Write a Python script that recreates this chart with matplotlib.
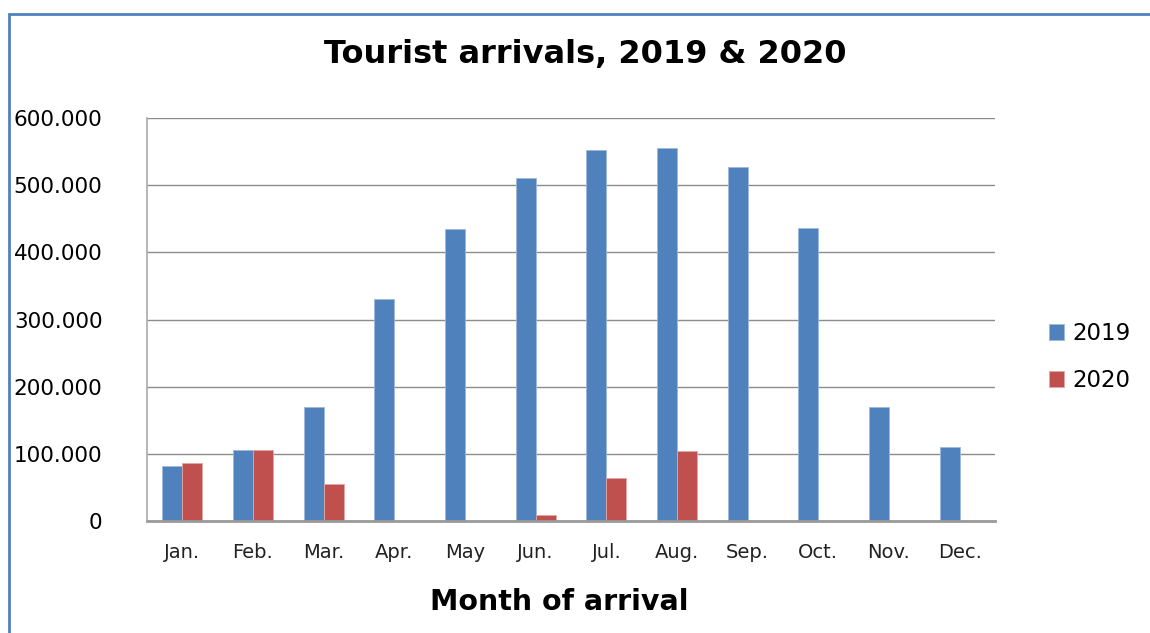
import matplotlib
matplotlib.use("Agg")
import matplotlib.pyplot as plt
from matplotlib.patches import Rectangle
from matplotlib.ticker import FuncFormatter
import numpy as np

months = ["Jan.", "Feb.", "Mar.", "Apr.", "May", "Jun.", "Jul.", "Aug.", "Sep.", "Oct.", "Nov.", "Dec."]
arrivals_2019 = [82000, 106000, 170000, 330000, 435000, 510000, 552000, 555000, 527000, 436000, 170000, 110000]
arrivals_2020 = [86000, 106000, 55000, 0, 0, 9000, 64000, 104000, 0, 0, 0, 0]
yticks = [0, 100000, 200000, 300000, 400000, 500000, 600000]

plt.rcParams['font.family'] = ['DejaVu Sans']

fig = plt.figure(figsize=(11.5, 6.33), dpi=100)
W, H = 1150, 633
ax = fig.add_axes([147/W, 1-521/H, (995-147)/W, (521-118)/H])

x = np.arange(len(months))
bw = 0.283
ax.bar(x - bw/2, arrivals_2019, bw, color="#4F81BD", label="2019", edgecolor="#9DB8DB", linewidth=0.6, zorder=3)
ax.bar(x + bw/2, arrivals_2020, bw, color="#C0504D", label="2020", edgecolor="#E0A8A6", linewidth=0.6, zorder=3)

ax.set_xlim(-0.5, len(months) - 0.5)
ax.set_ylim(0, 600000)
ax.set_yticks(yticks)
ax.yaxis.set_major_formatter(FuncFormatter(lambda v, p: "0" if v == 0 else f"{int(v):,}".replace(",", ".")))
ax.set_xticks(x)
ax.set_xticklabels(months, fontsize=14, color="#222222")
ax.tick_params(axis="y", length=0, pad=32, labelsize=15.5)
ax.tick_params(axis="x", length=0, pad=16)
ax.grid(axis="y", color="#8c8c8c", linewidth=1.0, zorder=0)
for s in ["top", "right"]:
    ax.spines[s].set_visible(False)
ax.spines["left"].set_color("#aaaaaa")
ax.spines["left"].set_linewidth(1.2)
ax.spines["bottom"].set_color("#9a9a9a")
ax.spines["bottom"].set_linewidth(2.0)
ax.spines["bottom"].set_zorder(4)

fig.text(585/W, 1-55/H, "Tourist arrivals, 2019 & 2020", ha="center", va="center", fontsize=23, fontweight="bold")
fig.text(559/W, 1-602/H, "Month of arrival", ha="center", va="center", fontsize=20.5, fontweight="bold")

leg = ax.legend(loc="center left", bbox_to_anchor=(1028/W, 1-357/H), bbox_transform=fig.transFigure,
                frameon=False, fontsize=16.5, handlelength=0.65, handleheight=0.65, handletextpad=0.4, labelspacing=1.05)

border = Rectangle((9/W, -0.1), 1.2, 1.1 - 14/H, transform=fig.transFigure, fill=False,
                   edgecolor="#4F81BD", linewidth=2.0, zorder=10)
fig.patches.append(border)

fig.savefig("out.png", dpi=100)
